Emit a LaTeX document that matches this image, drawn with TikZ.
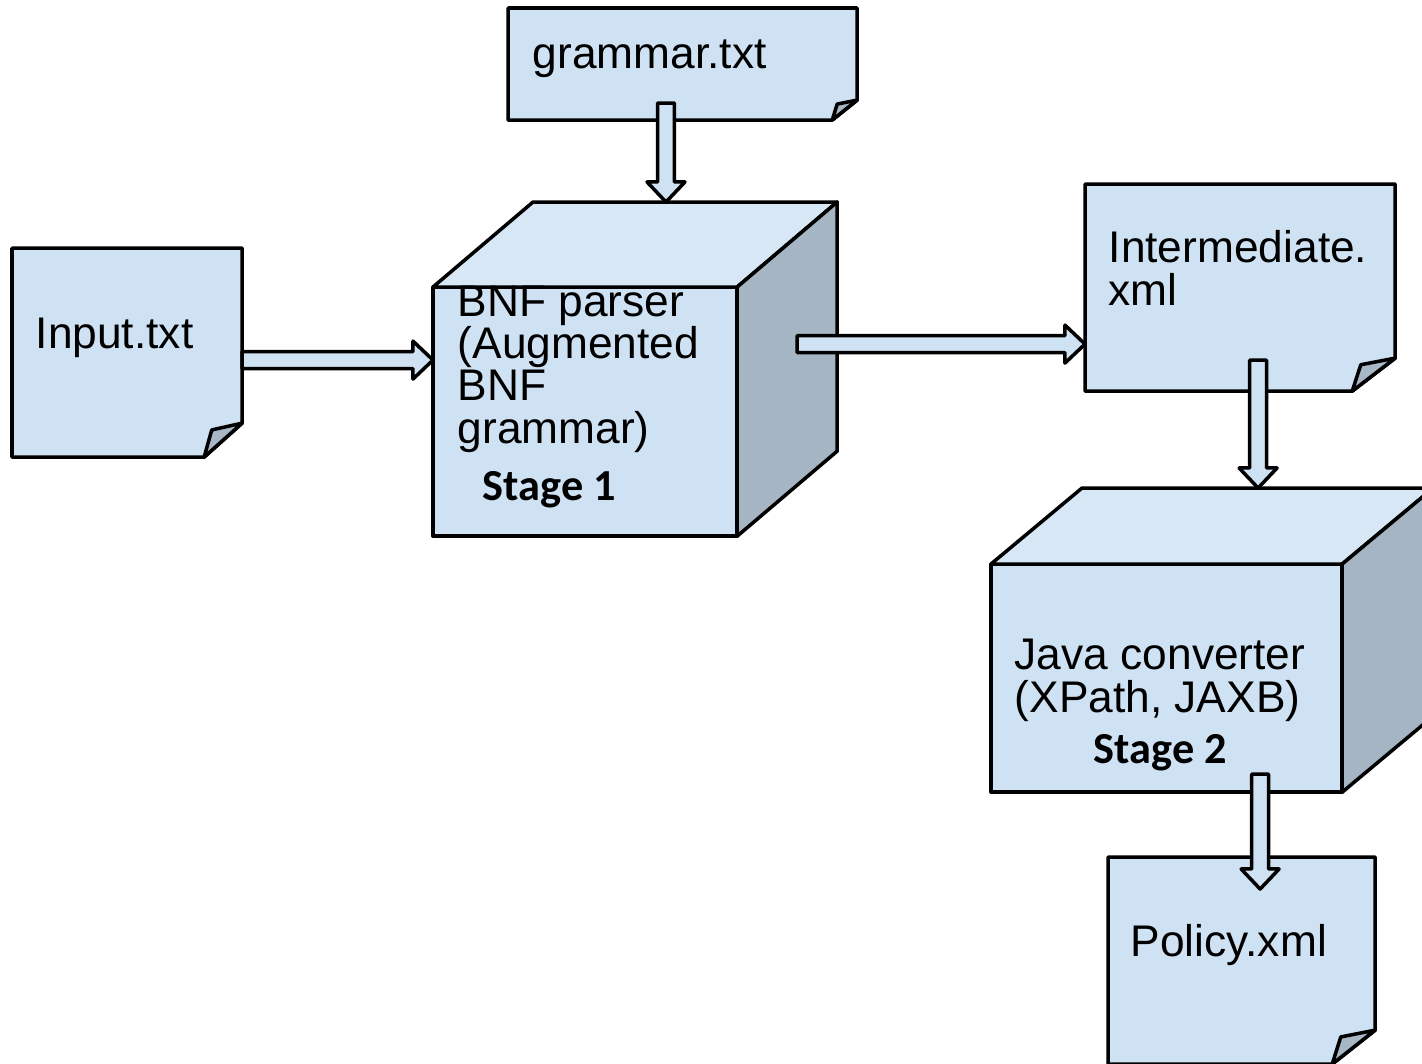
\documentclass[tikz,border=0pt]{standalone}
\usepackage{fontspec}
\setmainfont{Liberation Sans}
\newfontfamily\stagefont{Carlito}
\usetikzlibrary{calc}

\definecolor{pagefill}{HTML}{CFE2F3}
\definecolor{cubetop}{HTML}{D7E7F6}
\definecolor{cubeside}{HTML}{A6B5C4}
\definecolor{foldfill}{HTML}{A8B7C6}

\tikzset{
  outline/.style={draw=black, line width=1pt, line join=round},
  page/.style={inner sep=0pt, outer sep=0pt, anchor=north west},
  cube/.style={outline, fill=pagefill, inner sep=0pt, outer sep=0pt, anchor=north west},
  doctext/.style={font=\fontsize{12.6pt}{12pt}\selectfont, inner sep=0pt, anchor=base west, align=left},
  stagetext/.style={font=\stagefont\bfseries\fontsize{12.6pt}{12pt}\selectfont, inner sep=0pt, anchor=base west},
  % hollow block arrow from start to target
  fat arrow/.style={outline, fill=pagefill, to path={
    let \p1=(\tikztostart), \p2=(\tikztotarget),
        \n1={atan2(\y2-\y1,\x2-\x1)}, \n2={veclen(\x2-\x1,\y2-\y1)} in
    [shift={(\p1)}, rotate=\n1]
    (0pt,-2.4pt) -- (\n2-5.7pt,-2.4pt) -- (\n2-5.7pt,-5.4pt) -- (\n2,0pt)
    -- (\n2-5.7pt,5.4pt) -- (\n2-5.7pt,2.4pt) -- (0pt,2.4pt) -- cycle}}
}

% sheet with a turned-up corner: node name, fold width, fold height
\newcommand{\docpage}[3]{%
  \filldraw[outline, fill=pagefill] (#1.north west) -- (#1.north east)
    -- ($(#1.south east)+(0,-#3)$) -- ($(#1.south east)+(-#2,0)$)
    -- (#1.south west) -- cycle;
  \filldraw[outline, fill=foldfill] ($(#1.south east)+(0,-#3)$)
    -- ($(#1.south east)+(-0.8*#2,-0.8*#3)$) -- ($(#1.south east)+(-#2,0)$) -- cycle;
}

% top and side of a box whose front is the node: node name, depth x, depth y
\newcommand{\cubefaces}[3]{%
  \coordinate (#1-tl) at ($(#1.north west)+(#2,#3)$);
  \coordinate (#1-tr) at ($(#1.north east)+(#2,#3)$);
  \coordinate (#1-br) at ($(#1.south east)+(#2,#3)$);
  \filldraw[outline, fill=cubetop] (#1.north west) -- (#1-tl) -- (#1-tr) -- (#1.north east) -- cycle;
  \filldraw[outline, fill=cubeside] (#1.north east) -- (#1-tr) -- (#1-br) -- (#1.south east) -- cycle;
}

\begin{document}
\begin{tikzpicture}[x=0.01cm, y=-0.01cm]
  \useasboundingbox (0,0) rectangle (1422,1063);
  \clip (0,0) rectangle (1422,1063);

  % files
  \node[page, minimum width=3.49cm, minimum height=1.12cm] (grammar) at (508,8) {};
  \node[page, minimum width=2.30cm, minimum height=2.09cm] (input) at (12,248) {};
  \node[page, minimum width=3.10cm, minimum height=2.07cm] (inter) at (1085,184) {};
  \node[page, minimum width=2.67cm, minimum height=2.07cm] (policy) at (1108,857) {};
  \docpage{grammar}{25}{20}
  \docpage{input}{38}{34}
  \docpage{inter}{43}{33}
  \docpage{policy}{43}{34}

  % the two stages
  \node[cube, minimum width=3.04cm, minimum height=2.49cm] (bnf) at (433,287) {};
  \cubefaces{bnf}{100}{-85}
  \node[cube, minimum width=3.51cm, minimum height=2.28cm] (java) at (991,564) {};
  \cubefaces{java}{91}{-76}

  % multi-line texts sit on their last baseline
  \node[doctext] (grammartext) at (532,68) {grammar.txt};
  \node[doctext] (inputtext) at (35,348) {Input.txt};
  \node[doctext] (intertext) at (1108,305) {Intermediate.\\xml};
  \node[doctext] (policytext) at (1130,956) {Policy.xml};
  \node[doctext] (bnftext) at (457,443) {BNF parser\\(Augmented\\BNF\\grammar)};
  \node[stagetext] (stageone) at (482,500) {Stage 1};
  \node[doctext] (javatext) at (1014,712) {Java converter\\(XPath, JAXB)};
  \node[stagetext] (stagetwo) at (1093,763) {Stage 2};

  % data flow
  \coordinate (gout) at ($(grammar.south west)+(158,-17)$);
  \draw[fat arrow] (gout) to (gout |- bnf-tl);
  \coordinate (iout) at ($(input.east)+(0,7.5)$);
  \draw[fat arrow] (iout) to (iout -| bnf.west);
  \coordinate (bout) at ($(bnf.east)+(60,-67.5)$);
  \draw[fat arrow] (bout) to (bout -| inter.west);
  \coordinate (nout) at ($(inter.south)+(18,-31)$);
  \draw[fat arrow] (nout) to (nout |- java-tl);
  \coordinate (jout) at ($(java.south)+(93.5,-18)$);
  \coordinate (polin) at ($(policy.north)+(0,32)$);
  \draw[fat arrow] (jout) to (jout |- polin);
\end{tikzpicture}
\end{document}
